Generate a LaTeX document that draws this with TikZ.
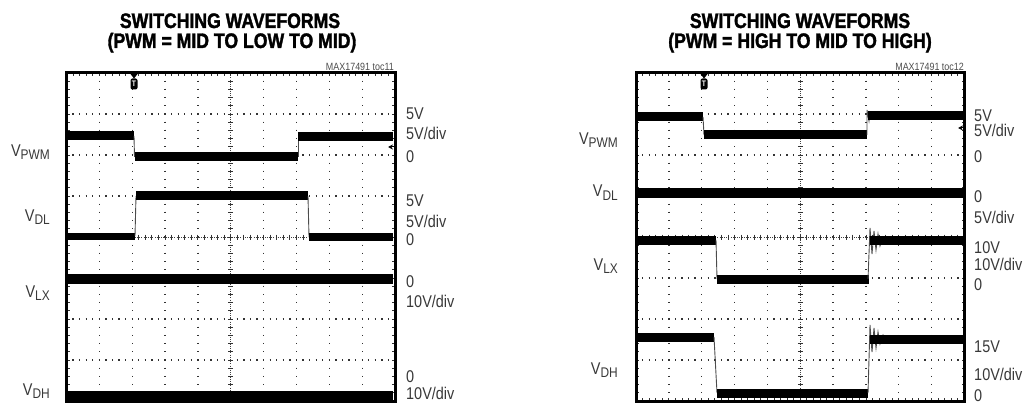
\documentclass[tikz,border=0pt]{standalone}
\usepackage{fontspec}
\setmainfont{Liberation Sans}
\newfontfamily\titlefont[FakeStretch=0.84,BoldFeatures={FakeBold=1.6}]{Liberation Sans}
\newfontfamily\labfont[FakeStretch=0.85]{Liberation Sans}
\usetikzlibrary{arrows.meta}
\newcommand{\vlab}[1]{V\raisebox{-3pt}{\fontsize{14}{14}\selectfont #1}}
\newcommand{\mygrid}[1]{%
  \begin{scope}[shift={(#1,73)}]
    \foreach \k in {1,2,3,5,6,7}
      \draw[gdot, dash pattern=on 1.3pt off 5.27pt, dash phase=0.65pt] (0,\k*41) -- (328.5,\k*41);
    \foreach \i in {1,2,3,4,6,7,8,9}
      \draw[gdot, dash pattern=on 1.3pt off 6.9pt, dash phase=0.65pt] (\i*32.85,0) -- (\i*32.85,328);
    \draw[cdot] (164.25,0) -- (164.25,328);
    \draw[cdot] (0,164) -- (328.5,164);
    \foreach \m in {1,...,49} {
      \draw[tck] (\m*6.57,161.5) -- ++(0,5);
      \draw[tck] (\m*6.57,0) -- ++(0,3);
      \draw[tck] (\m*6.57,328) -- ++(0,-3);
    }
    \foreach \m in {1,...,39} {
      \draw[tck] (161.75,\m*8.2) -- ++(5,0);
      \draw[tck] (0,\m*8.2) -- ++(3,0);
      \draw[tck] (328.5,\m*8.2) -- ++(-3,0);
    }
    \draw[line width=3pt] (0,0) rectangle (328.5,328);
  \end{scope}}
\begin{document}
\begin{tikzpicture}[x=1pt,y=-1pt,
  gdot/.style={line width=1.3pt, black!80},
  cdot/.style={line width=0.8pt, black!75, dash pattern=on 1pt off 1.2pt},
  tck/.style={line width=0.9pt, black!80},
  trace/.style={line width=9pt, line cap=butt},
  edgeln/.style={line width=0.9pt, black!70},
  title/.style={font=\titlefont\bfseries\fontsize{21}{21}\selectfont, inner sep=0, anchor=base},
  lab/.style={font=\labfont\fontsize{17}{17}\selectfont, text=black!78, inner sep=0, anchor=base west},
  vlabel/.style={font=\labfont\fontsize{17}{17}\selectfont, text=black!78, inner sep=0, anchor=base east},
  toc/.style={font=\labfont\fontsize{10.5}{10.5}\selectfont, text=black!70, inner sep=0, anchor=base east},
  tmark/.style={fill=black, text=white, rounded corners=2pt, font=\labfont\bfseries\fontsize{8}{8}\selectfont, inner sep=0.8pt, minimum width=7pt, minimum height=11pt},
  gnd/.style={-{Stealth[length=5pt,width=5pt]}, line width=1pt}]
\useasboundingbox (0,0) rectangle (1024,403);

% ---------- titles ----------
\node[title] (t1a) at (230,28) {SWITCHING WAVEFORMS};
\node[title] (t1b) at (232,48) {(PWM = MID TO LOW TO MID)};
\node[title] (t2a) at (800,28) {SWITCHING WAVEFORMS};
\node[title] (t2b) at (800,48) {(PWM = HIGH TO MID TO HIGH)};
\node[toc] (toc1) at (394,71) {MAX17491 toc11};
\node[toc] (toc2) at (964,71) {MAX17491 toc12};

% ---------- grids ----------
\mygrid{66.5}
\mygrid{636}

% ---------- left traces ----------
\draw[trace] (68,136) -- (134,136);
\draw[edgeln] (134,136) -- (134.5,157);
\draw[trace] (134.5,157) -- (298,157);
\draw[edgeln] (298,157) -- (298,137);
\draw[trace] (298,137) -- (393,137);

\draw[trace, line width=7.5pt] (68,236.5) -- (135,236.5);
\draw[edgeln] (135,236) -- (136,196);
\draw[trace] (136,196) -- (308,196);
\draw[edgeln] (308,196) -- (309,237);
\draw[trace, line width=7.5pt] (309,237) -- (393,237);

\draw[trace, line width=10pt] (68,279) -- (393,279);
\draw[trace, line width=10pt] (68,396) -- (393,396);

% ---------- right traces ----------
\draw[trace] (638,117) -- (703,117);
\draw[edgeln] (703,117) -- (704,135);
\draw[trace] (704,135) -- (867,135);
\draw[edgeln] (867,135) -- (867,110) -- (869,121) -- (870,113);
\draw[trace] (868,116) -- (963,116);

\draw[trace, line width=9.5pt] (638,193) -- (963,193);

\draw[trace] (638,240) -- (716,240);
\draw[edgeln] (716,240) -- (717,279);
\draw[trace] (717,279) -- (869,279);
\draw[edgeln] (868,279) -- (870,228) -- (872,254) -- (874,231) -- (876,250) -- (878,234) -- (880,246) -- (883,237) -- (886,243);
\draw[trace] (870,240) -- (963,240);

\draw[trace] (638,337) -- (714,337);
\draw[edgeln] (714,337) -- (717,393);
\draw[trace] (717,393) -- (868,393);
\draw[edgeln] (868,393) -- (870,325) -- (872,352) -- (874,328) -- (876,348) -- (878,332) -- (880,344) -- (883,335) -- (886,341);
\draw[trace] (870,339) -- (963,339);

% ---------- markers ----------
\fill (130.5,74) -- (137.5,74) -- (134,78.5) -- cycle;
\node[tmark] (trig1) at (134,84) {T};
\fill (700.5,74) -- (707.5,74) -- (704,78.5) -- cycle;
\node[tmark] (trig2) at (704,84) {T};
\coordinate (g1a) at (395,147);
\coordinate (g1b) at (388,147);
\draw[gnd] (g1a) -- (g1b);
\coordinate (g2a) at (965,128);
\coordinate (g2b) at (958,128);
\draw[gnd] (g2a) -- (g2b);

% ---------- left labels ----------
\node[vlabel] (l1) at (50,157) {\vlab{PWM}};
\node[vlabel] (l2) at (50,222) {\vlab{DL}};
\node[vlabel] (l3) at (50,297) {\vlab{LX}};
\node[vlabel] (l4) at (50,395) {\vlab{DH}};

\node[lab] (a1) at (406,120) {5V};
\node[lab] (a2) at (406,139.5) {5V/div};
\node[lab] (a3) at (406,163) {0};
\node[lab] (a4) at (406,207) {5V};
\node[lab] (a5) at (406,227) {5V/div};
\node[lab] (a6) at (406,245) {0};
\node[lab] (a7) at (406,287) {0};
\node[lab] (a8) at (406,307) {10V/div};
\node[lab] (a9) at (406,382) {0};
\node[lab] (a10) at (406,399) {10V/div};

% ---------- right labels ----------
\node[vlabel] (r1) at (618,145) {\vlab{PWM}};
\node[vlabel] (r2) at (618,197) {\vlab{DL}};
\node[vlabel] (r3) at (618,270) {\vlab{LX}};
\node[vlabel] (r4) at (618,374) {\vlab{DH}};

\node[lab] (b1) at (974,122) {5V};
\node[lab] (b2) at (974,137) {5V/div};
\node[lab] (b3) at (974,163) {0};
\node[lab] (b4) at (974,203) {0};
\node[lab] (b5) at (974,223) {5V/div};
\node[lab] (b6) at (974,253) {10V};
\node[lab] (b7) at (974,270) {10V/div};
\node[lab] (b8) at (974,290) {0};
\node[lab] (b9) at (974,352) {15V};
\node[lab] (b10) at (974,380) {10V/div};
\node[lab] (b11) at (974,401) {0};
\end{tikzpicture}
\end{document}
